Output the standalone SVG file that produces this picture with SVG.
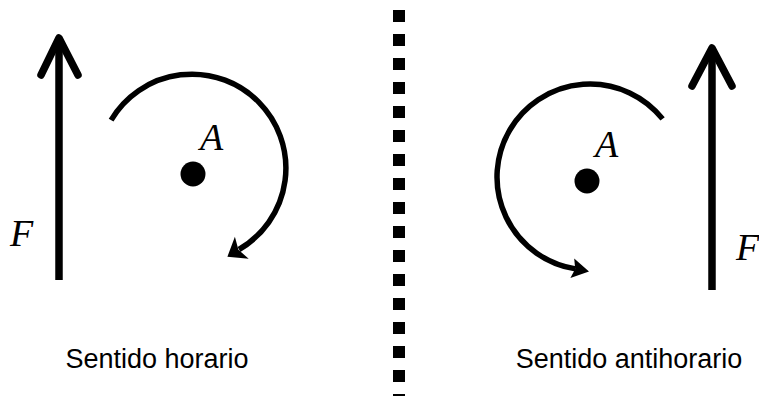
<svg xmlns="http://www.w3.org/2000/svg" width="759" height="396" viewBox="0 0 759 396">
<style>
.force{fill:none;stroke:#000;stroke-width:7.5;stroke-linecap:round;stroke-linejoin:round}
.shaft{fill:none;stroke:#000;stroke-width:7.5;stroke-linecap:butt}
.arc{fill:none;stroke:#000;stroke-width:5.5;stroke-linecap:butt}
.head{fill:#000;stroke:none}
.math{font-family:"Liberation Serif","DejaVu Serif",serif;font-style:italic;font-size:38px;fill:#000}
.cap{font-family:"Liberation Sans",Arial,sans-serif;font-size:27px;fill:#000;text-anchor:middle}
</style>
<rect width="759" height="396" fill="#fff"/>
<g id="connectors">
  <line x1="399" y1="10" x2="399" y2="396" stroke="#000" stroke-width="12" stroke-dasharray="12 12"/>
</g>
<g id="left-force">
  <line class="shaft" x1="59" y1="280" x2="59" y2="40"/>
  <polyline class="force" points="41,75 59,38 78,75"/>
  <text class="math" x="10" y="246">F</text>
</g>
<g id="left-moment">
  <path class="arc" d="M111.1,120.1 A94,94 0 1 1 239.0,249.5"/>
  <polygon class="head" points="227.4,256.7 234.9,236.7 238.4,249.8 248.7,258.7"/>
  <circle cx="193" cy="174" r="12.5" fill="#000"/>
  <text class="math" x="200" y="150">A</text>
</g>
<g id="left-label">
  <text class="cap" x="157" y="368">Sentido horario</text>
</g>
<g id="right-moment">
  <path class="arc" d="M662.6,118.9 A93,93 0 1 0 575.5,268.9"/>
  <polygon class="head" points="589,271.5 570.4,278.1 575.2,268.9 574.2,258.5"/>
  <circle cx="587" cy="181" r="12.5" fill="#000"/>
  <text class="math" x="595" y="157">A</text>
</g>
<g id="right-force">
  <line class="shaft" x1="712" y1="290" x2="712" y2="50"/>
  <polyline class="force" points="692,86 712,48 732,86"/>
  <text class="math" x="736" y="260">F</text>
</g>
<g id="right-label">
  <text class="cap" x="629" y="368">Sentido antihorario</text>
</g>
</svg>
